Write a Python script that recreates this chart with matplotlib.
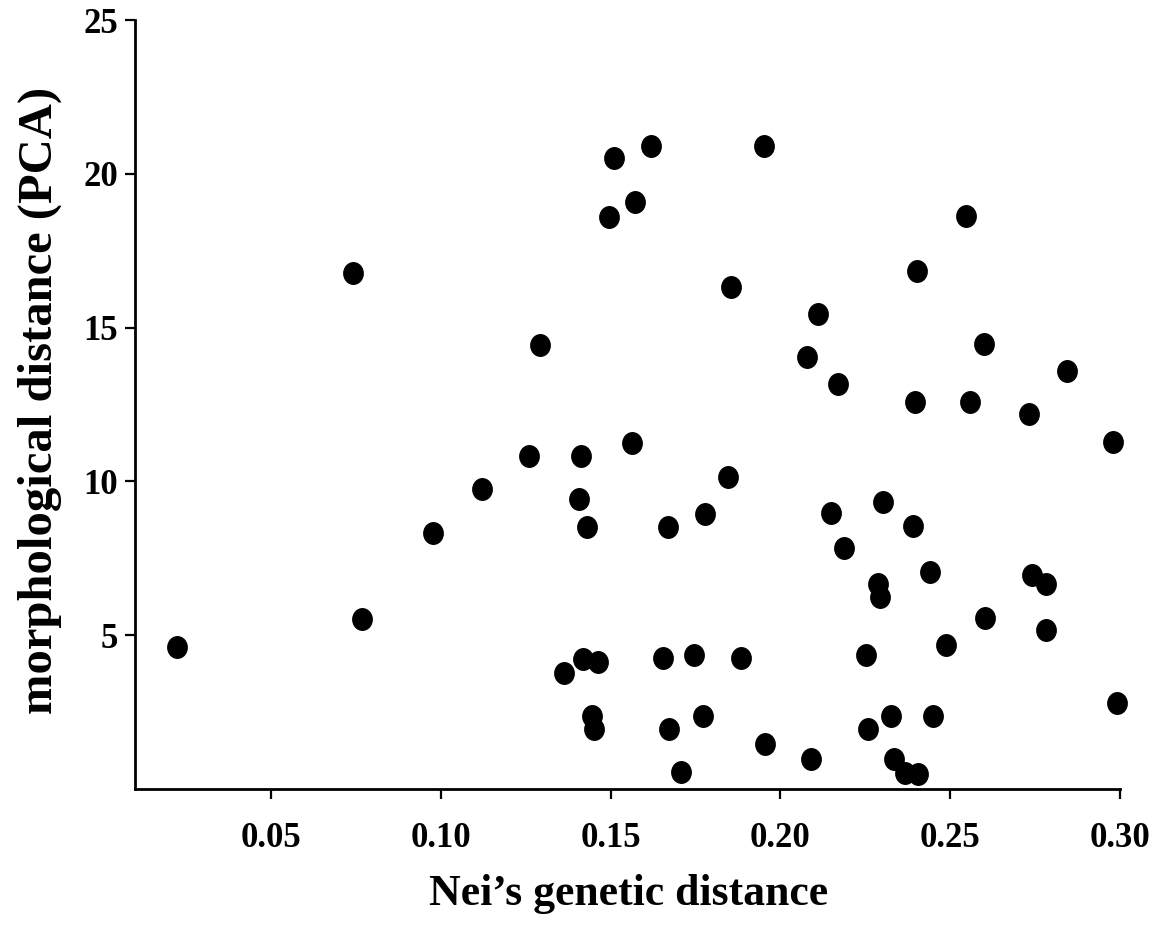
import numpy as np
import matplotlib
matplotlib.use('Agg')
import matplotlib.pyplot as plt
from matplotlib.path import Path
from matplotlib.transforms import Affine2D

# Nei's genetic distance (x) vs morphological distance from PCA (y)
neiDist = [
    0.0225, 0.0742, 0.0768, 0.0978, 0.1122, 0.1259, 0.1292, 0.1363,
    0.1413, 0.1407, 0.1430, 0.1420, 0.1464, 0.1444, 0.1452, 0.1496,
    0.1511, 0.1571, 0.1618, 0.1563, 0.1668, 0.1655, 0.1671, 0.1708,
    0.1746, 0.1779, 0.1772, 0.1847, 0.1855, 0.1883, 0.1954, 0.1953,
    0.2089, 0.2078, 0.2110, 0.2171, 0.2150, 0.2187, 0.2251, 0.2258,
    0.2286, 0.2294, 0.2303, 0.2325, 0.2334, 0.2367, 0.2404, 0.2391,
    0.2395, 0.2403, 0.2441, 0.2449, 0.2488, 0.2547, 0.2558, 0.2598,
    0.2602, 0.2731, 0.2740, 0.2781, 0.2781, 0.2845, 0.2980, 0.2990,
]
morphDist = [
    4.61, 16.78, 5.52, 8.31, 9.74, 10.84, 14.43, 3.76,
    10.84, 9.43, 8.53, 4.23, 4.14, 2.37, 1.96, 18.61,
    20.50, 19.09, 20.90, 11.26, 8.53, 4.25, 1.96, 0.56,
    4.36, 8.94, 2.37, 10.14, 16.32, 4.25, 1.46, 20.90,
    0.98, 14.05, 15.43, 13.16, 8.96, 7.84, 4.36, 1.96,
    6.66, 6.23, 9.34, 2.37, 0.98, 0.51, 0.48, 8.55,
    12.57, 16.84, 7.05, 2.37, 4.68, 18.63, 12.57, 14.47,
    5.57, 12.18, 6.96, 6.66, 5.17, 13.59, 11.29, 2.79,
]

xTicks = [0.05, 0.10, 0.15, 0.20, 0.25, 0.30]
xTickLabels = ['0.05', '0.10', '0.15', '0.20', '0.25', '0.30']
yTicks = [5, 10, 15, 20, 25]

plt.rcParams['font.family'] = ['Liberation Serif', 'DejaVu Serif']
plt.rcParams['font.weight'] = 'bold'

fig = plt.figure(figsize=(11.59, 9.44), dpi=100)
ax = fig.add_axes([0.1165, 0.1642, 0.8499, 0.8146])

# slightly narrow dots, like the scanned figure
dotMarker = Path.unit_circle().transformed(Affine2D().scale(0.9, 1.0))
ax.plot(neiDist, morphDist, ls='', marker=dotMarker, markersize=15.5,
        color='black', clip_on=False)

ax.set_xlim(0.01, 0.30)
ax.set_ylim(0, 25)
ax.set_xticks(xTicks)
ax.set_xticklabels(xTickLabels)
ax.set_yticks(yTicks)

for side in ['top', 'right']:
    ax.spines[side].set_visible(False)
for side in ['left', 'bottom']:
    ax.spines[side].set_linewidth(2)

ax.tick_params(axis='x', direction='out', length=7, width=1.6, pad=17,
               labelsize=25)
ax.tick_params(axis='y', direction='out', length=7, width=1.6, pad=5,
               labelsize=25)
for lbl in ax.get_xticklabels() + ax.get_yticklabels():
    lbl.set_fontweight('bold')

ax.set_xlabel('Nei\u2019s genetic distance', fontsize=31.5, fontweight='bold')
ax.set_ylabel('morphological distance (PCA)', fontsize=35, fontweight='bold')
ax.xaxis.set_label_coords(0.5015, -0.11)
ax.yaxis.set_label_coords(-0.074, 0.505)

plt.savefig('out.png', dpi=100)
